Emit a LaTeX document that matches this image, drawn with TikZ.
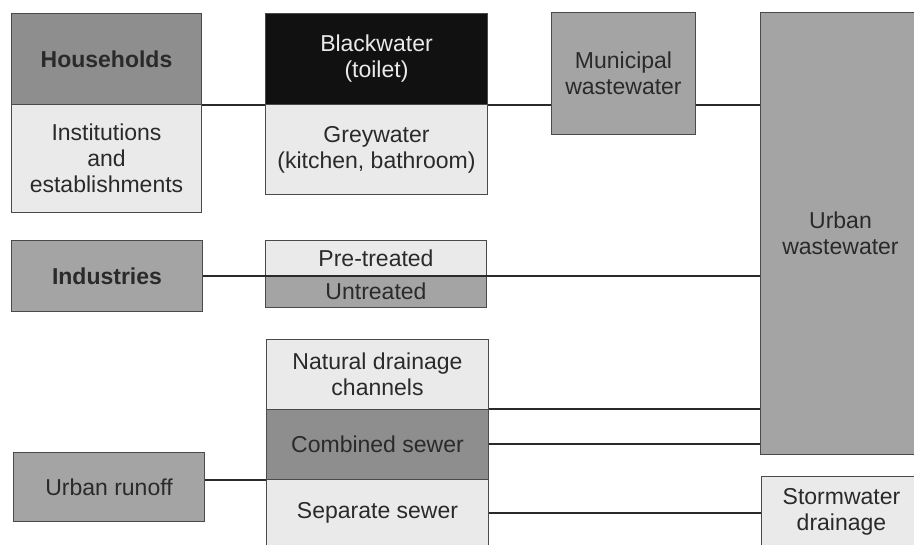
\documentclass[tikz,border=0pt]{standalone}
\usepackage{fontspec}
\setmainfont{Liberation Sans}
\usepackage{tikz}
\usetikzlibrary{positioning}
\definecolor{ink}{HTML}{2A2A2A}
\definecolor{edge}{HTML}{4A4A4A}
\definecolor{darkgrey}{HTML}{8E8E8E}
\definecolor{midgrey}{HTML}{A4A4A4}
\definecolor{palegrey}{HTML}{EAEAEA}
\definecolor{nearblack}{HTML}{111111}

\begin{document}
\begin{tikzpicture}[
    x=1pt,y=-1pt,
    src/.style={draw=edge,line width=1pt,inner sep=0pt,anchor=north west,
      align=center,text=ink,font=\fontsize{23}{26}\selectfont},
    pale/.style={src,fill=palegrey},
    mid/.style={src,fill=midgrey},
    dark/.style={src,fill=darkgrey},
    link/.style={draw=ink,line width=2pt}]
    \useasboundingbox (0,0) rectangle (914,545);
    % sources
    \node[dark,minimum width=190pt,minimum height=91pt,font=\fontsize{23}{26}\selectfont\bfseries]
      (house) at (11,13) {Households};
    \node[pale,minimum width=190pt,minimum height=108pt] (inst) at (11,104)
      {Institutions\\and\\establishments};
    \node[mid,minimum width=191pt,minimum height=71pt,font=\fontsize{23}{26}\selectfont\bfseries]
      (ind) at (11,240) {Industries};
    \node[mid,minimum width=191pt,minimum height=69pt] (runoff) at (13,452) {Urban runoff};
    % kinds of flow
    \node[src,fill=nearblack,text=palegrey,minimum width=222pt,minimum height=91pt]
      (black) at (265,13) {Blackwater\\(toilet)};
    \node[pale,minimum width=222pt,minimum height=90pt] (grey) at (265,104)
      {Greywater\\(kitchen, bathroom)};
    \node[pale,minimum width=221pt,minimum height=35pt] (pre) at (265,240) {Pre-treated};
    \node[mid,minimum width=221pt,minimum height=32pt] (untr) at (265,275) {Untreated};
    \node[pale,minimum width=222pt,minimum height=70pt] (nat) at (266,339)
      {Natural drainage\\channels};
    \node[dark,minimum width=222pt,minimum height=70pt] (comb) at (266,409) {Combined sewer};
    \node[pale,minimum width=222pt,minimum height=67pt] (sep) at (266,479) {Separate sewer};
    % collected flows
    \node[mid,minimum width=144pt,minimum height=122pt] (muni) at (551,12)
      {Municipal\\wastewater};
    \node[mid,minimum width=160pt,minimum height=442pt] (urban) at (760,12)
      {Urban\\wastewater};
    \node[pale,minimum width=160pt,minimum height=70pt] (storm) at (761,476)
      {Stormwater\\drainage};
    % connections
    \draw[link] (house.south east) -- (black.south west);
    \draw[link] (black.south east) -- (black.south east -| muni.west);
    \draw[link] (black.south east -| muni.east) -- (black.south east -| urban.west);
    \draw[link] (ind.east |- pre.south) -- (pre.south -| urban.west);
    \draw[link] (comb.north east) -- (comb.north east -| urban.west);
    \draw[link] (comb.east) -- (comb.east -| urban.west);
    \draw[link] (runoff.east |- comb.south) -- (comb.south west);
    \draw[link] (sep.east) -- (sep.east -| storm.west);
  \end{tikzpicture}
\end{document}
